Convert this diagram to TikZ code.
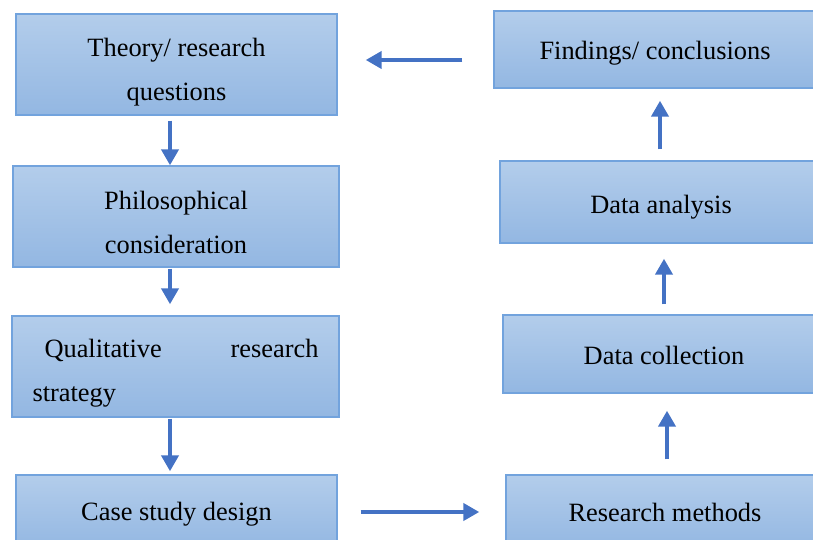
\documentclass[tikz,border=0pt]{standalone}
\usepackage{fontspec}
\setmainfont{Liberation Serif}
\usetikzlibrary{arrows.meta}
\definecolor{boxtop}{HTML}{B3CDEB}
\definecolor{boxbot}{HTML}{93B7E2}
\definecolor{boxline}{HTML}{72A3DD}
\definecolor{arrblue}{HTML}{4472C4}
\tikzset{
  stagebox/.style={draw=boxline, line width=1.4pt, top color=boxtop, bottom color=boxbot, inner sep=0pt},
  stagetext/.style={inner sep=0pt, align=center, font=\fontsize{26.4}{44}\selectfont},
  flowarrow/.style={draw=arrblue, line width=4pt, -{Triangle[width=17pt,length=16pt]}}
}
\begin{document}
\begin{tikzpicture}[x=1pt,y=-1pt]
\useasboundingbox (0,0) rectangle (813,540);
\clip (0,0) rectangle (813,540);
\node[stagebox, minimum width=321pt, minimum height=101pt,
  label={[stagetext, yshift=-8pt]center:Theory/ research\\questions}] (n1) at (176.5,64.5) {};
\node[stagebox, minimum width=326pt, minimum height=101pt,
  label={[stagetext, yshift=-6pt]center:Philosophical\\consideration}] (n2) at (176,216.5) {};
\node[stagebox, minimum width=327pt, minimum height=101pt,
  label={[stagetext, yshift=-7pt]center:\parbox{286pt}{\hspace*{12pt}Qualitative\hfill research\\strategy}}] (n3) at (175.5,366.5) {};
\node[stagebox, minimum width=321pt, minimum height=74pt,
  label={[stagetext, yshift=-2pt]center:Case study design}] (n4) at (176.5,512) {};
\node[stagebox, minimum width=322pt, minimum height=77pt,
  label={[stagetext, yshift=-4pt]center:Findings/ conclusions}] (n5) at (655,49.5) {};
\node[stagebox, minimum width=322pt, minimum height=82pt,
  label={[stagetext, yshift=-5pt]center:Data analysis}] (n6) at (661,202) {};
\node[stagebox, minimum width=322pt, minimum height=78pt,
  label={[stagetext, yshift=-1pt]center:Data collection}] (n7) at (664,354) {};
\node[stagebox, minimum width=318pt, minimum height=74pt,
  label={[stagetext]center:Research methods}] (n8) at (665,512) {};

\draw[flowarrow, shorten <=5pt] ([xshift=-6.5pt]n1.south) -- ([xshift=-6pt]n2.north);
\draw[flowarrow, shorten <=1pt, shorten >=11pt] ([xshift=-6pt]n2.south) -- ([xshift=-5.5pt]n3.north);
\draw[flowarrow, shorten <=1pt, shorten >=3pt] ([xshift=-5.5pt]n3.south) -- ([xshift=-6.5pt]n4.north);
\draw[flowarrow, shorten <=23pt, shorten >=26pt] (n4.east) -- (n8.west);
\draw[flowarrow, shorten <=15pt, shorten >=17pt] ([xshift=2pt]n8.north) -- ([xshift=3pt]n7.south);
\draw[flowarrow, shorten <=10pt, shorten >=15pt] (n7.north) -- ([xshift=3pt]n6.south);
\draw[flowarrow, shorten <=11pt, shorten >=12pt] ([xshift=-1pt]n6.north) -- ([xshift=5pt]n5.south);
\draw[flowarrow, shorten <=31pt, shorten >=28pt] ([yshift=-10.5pt]n5.west) -- ([yshift=4.5pt]n1.east);
\end{tikzpicture}
\end{document}
